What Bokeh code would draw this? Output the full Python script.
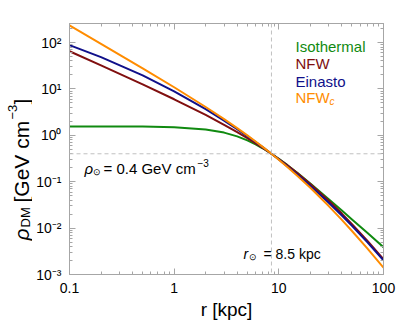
import math
from bokeh.plotting import figure
from bokeh.layouts import row
from bokeh.models import (LogAxis, Span, Label, CustomJSTickFormatter, FixedTicker, Range1d)
from bokeh.embed import file_html
from bokeh.resources import INLINE

# ---- data ----
r_kpc = [0.1, 0.2, 0.5, 1, 2, 3, 4, 5, 6, 7, 8.5, 10, 12, 15, 20, 30, 40, 50, 70, 100]
rho_iso = [1.555, 1.553, 1.541, 1.496, 1.341, 1.144, 0.949, 0.778, 0.638, 0.526, 0.400,
           0.311, 0.230, 0.156, 0.0915, 0.0421, 0.0239, 0.0154, 0.0079, 0.00388]
rho_nfw = [64.8, 32.09, 12.50, 5.980, 2.746, 1.687, 1.170, 0.8678, 0.6725, 0.5373, 0.400,
           0.3089, 0.2280, 0.1540, 0.08966, 0.03900, 0.02057, 0.01220, 0.005339, 0.002125]
rho_ein = [87.7, 48.3, 19.5, 8.89, 3.67, 2.08, 1.359, 0.962, 0.718, 0.556, 0.400,
           0.300, 0.2164, 0.1425, 0.0813, 0.0351, 0.01866, 0.01118, 0.00498, 0.00201]
rho_nfwc = [233.4, 94.0, 27.86, 10.86, 4.074, 2.230, 1.427, 0.996, 0.735, 0.564, 0.400,
            0.2967, 0.2098, 0.1348, 0.0739, 0.02985, 0.01506, 0.00867, 0.003654, 0.001409]

series_names = ["Isothermal", "NFW", "Einasto", "NFW"]
series_colors = ["#108a10", "#800f0f", "#10108a", "#ff8c00"]

x_ticks = [0.1, 1, 10, 100]
y_ticks = [1e-3, 1e-2, 1e-1, 1e0, 1e1, 1e2]
r_sun = 8.5
rho_sun = 0.4

FONT = "Liberation Sans"
GRAY = "#a6a6a6"

p = figure(width=367, height=325, x_axis_type="log", y_axis_type="log",
           x_range=Range1d(0.1, 100), y_range=Range1d(1e-3, 257),
           output_backend="svg", toolbar_location=None,
           min_border_left=37, min_border_right=16, min_border_top=23, min_border_bottom=51)
p.grid.visible = False
p.outline_line_color = GRAY
p.background_fill_color = "white"
p.border_fill_color = "white"

def minors(lo, hi):
    out = []
    for e in range(lo, hi):
        for k in range(2, 10):
            out.append(k * 10.0 ** e)
    return out

xt = FixedTicker(ticks=x_ticks, minor_ticks=minors(-1, 2))
yt = FixedTicker(ticks=y_ticks, minor_ticks=minors(-3, 3))

def style(ax):
    ax.axis_line_color = GRAY
    ax.major_tick_line_color = GRAY
    ax.minor_tick_line_color = GRAY
    ax.major_tick_in = 6
    ax.major_tick_out = 0
    ax.minor_tick_in = 3
    ax.minor_tick_out = 0
    ax.major_label_text_font = FONT
    ax.major_label_text_font_size = "14px"
    ax.major_label_text_color = "black"

xa = p.xaxis[0]
xa.ticker = xt
xa.formatter = CustomJSTickFormatter(code="return tick < 1 ? tick.toFixed(1) : tick.toFixed(0);")
style(xa)
xa.major_label_standoff = 8
xa.axis_label = "r [kpc]"
xa.axis_label_text_font = FONT
xa.axis_label_text_font_size = "19px"
xa.axis_label_text_font_style = "normal"
xa.axis_label_text_color = "black"
xa.axis_label_standoff = 3

ya = p.yaxis[0]
ya.ticker = yt
ya.formatter = CustomJSTickFormatter(code="""
const e = Math.round(Math.log10(tick));
const m = {"-":"\u207b","0":"\u2070","1":"\u00b9","2":"\u00b2","3":"\u00b3","4":"\u2074","5":"\u2075","6":"\u2076","7":"\u2077","8":"\u2078","9":"\u2079"};
return "10" + String(e).split("").map(c => m[c]).join("");
""")
style(ya)
ya.major_label_standoff = 8

for loc, tk in (("above", xt), ("right", yt)):
    ax = LogAxis(ticker=tk, formatter=CustomJSTickFormatter(code="return '';"))
    style(ax)
    ax.major_label_text_font_size = "0px"
    ax.major_label_standoff = 0
    p.add_layout(ax, loc)

# reference lines
p.add_layout(Span(location=r_sun, dimension="height", line_color="#c0c0c0",
                  line_dash="4 3", line_width=1))
p.add_layout(Span(location=rho_sun, dimension="width", line_color="#c0c0c0",
                  line_dash="4 3", line_width=1))

for ys, c in zip([rho_iso, rho_nfw, rho_ein, rho_nfwc], series_colors):
    p.line(r_kpc, ys, line_color=c, line_width=2)

def lab(fig, x, y, text, size, color="black", style="normal", angle=0.0, align="left"):
    fig.add_layout(Label(x=x, y=y, x_units="screen", y_units="screen", text=text,
                         text_font=FONT, text_font_size=f"{size}px", text_color=color,
                         text_font_style=style, angle=angle, text_align=align,
                         text_baseline="alphabetic"))

# legend texts
leg_y = [228, 211, 193.5, 177.5]
for name, c, yy in zip(series_names, series_colors, leg_y):
    lab(p, 226, yy, name, 15, c)
lab(p, 260, 173.5, "c", 10, series_colors[3], "italic")

# annotations
lab(p, 15, 106, "\u03c1", 15, style="italic")
lab(p, 23, 102.5, "\u2299", 9)
lab(p, 34, 106, "= 0.4 GeV cm", 15)
lab(p, 128, 112, "\u22123", 10)

lab(p, 174, 21, "r", 14, style="italic")
lab(p, 179, 17.5, "\u2299", 9)
lab(p, 194, 21, "= 8.5 kpc", 14)

# y-axis label panel (frame fills the whole figure)
q = figure(frame_width=32, frame_height=325, x_range=Range1d(0, 1), y_range=Range1d(0, 1),
           x_axis_location=None, y_axis_location=None,
           output_backend="svg", toolbar_location=None,
           min_border_left=0, min_border_right=0, min_border_top=0, min_border_bottom=0)
q.grid.visible = False
q.outline_line_color = None
q.background_fill_color = "white"
q.border_fill_color = "white"
A = math.pi / 2
lab(q, 21, 108, "\u03c1", 21, style="italic", angle=A)
lab(q, 25, 121, "DM", 13, angle=A)
lab(q, 21, 146, "[GeV cm", 21, angle=A)
lab(q, 12, 229, "\u22123", 13, angle=A)
lab(q, 21, 244, "]", 21, angle=A)

layout = row(q, p, spacing=0)
open("out.html", "w").write(file_html(layout, INLINE))
